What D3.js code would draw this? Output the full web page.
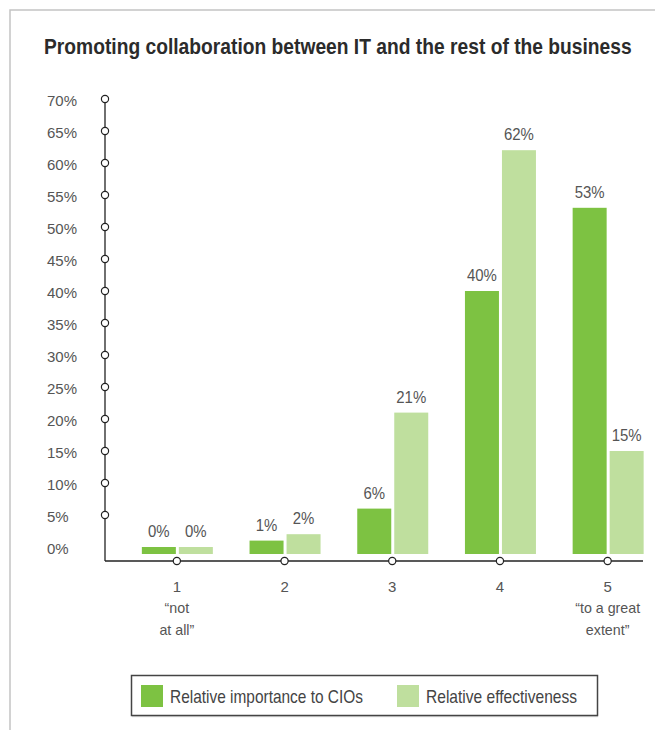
<!DOCTYPE html>
<html>
<head>
<meta charset="utf-8">
<script src="https://cdn.jsdelivr.net/npm/d3@7"></script>
<style>
  html, body { margin: 0; padding: 0; background: #fff; }
  svg { display: block; }
  text { font-family: "Liberation Sans", Arial, Helvetica, sans-serif; }
</style>
</head>
<body>
<svg id="chart" width="655" height="730"></svg>
<script>
// Survey answers on a 1–5 scale
const categories = ["1", "2", "3", "4", "5"];
const categoryNotes = [["“not", "at all”"], [], [], [], ["“to a great", "extent”"]];
const seriesNames = ["Relative importance to CIOs", "Relative effectiveness"];
const importance = [0, 1, 6, 40, 53];
const effectiveness = [0, 2, 21, 62, 15];
const yTicks = [0, 5, 10, 15, 20, 25, 30, 35, 40, 45, 50, 55, 60, 65, 70];
const title = "Promoting collaboration between IT and the rest of the business";

const colors = ["#7dc242", "#bfdf9e"];
const svg = d3.select("#chart");

// condensed look: shrink a text run horizontally to a width (or a share of its own width)
function squeeze(sel, target) {
  sel.each(function () {
    const w = this.getComputedTextLength();
    const t = typeof target === "function" ? target(w) : target;
    this.setAttribute("textLength", t);
    this.setAttribute("lengthAdjust", "spacingAndGlyphs");
  });
}

// outer frame (top and left rules)
svg.append("path")
  .attr("d", "M10,730 V10 H655")
  .attr("fill", "none").attr("stroke", "#c4c4c4").attr("stroke-width", 1.5);

// title, compressed horizontally to a condensed width
const titleText = svg.append("text")
  .attr("x", 0).attr("y", 0)
  .attr("font-size", 22).attr("font-weight", "bold").attr("fill", "#2b2b2b")
  .text(title);
const titleScale = 588 / titleText.node().getComputedTextLength();
titleText.attr("transform", `translate(44,54) scale(${titleScale},1)`);

const y = d3.scaleLinear().domain([0, 70]).range([547, 99]);
const x = d3.scaleBand().domain(categories).range([123, 661.5]);
const barBase = y(0) + 7;
const axisY = 561;
const axisX = 105;
const barW = 34, gap = 3;

// y axis
const yAxis = svg.append("g")
  .attr("transform", `translate(${axisX},0)`)
  .call(d3.axisLeft(y).tickValues(yTicks).tickSize(0).tickFormat(d => d + "%"));
yAxis.select(".domain").remove();
yAxis.selectAll("text")
  .attr("x", 47 - axisX).attr("dy", "0.45em")
  .attr("text-anchor", "start")
  .attr("font-size", 15).attr("fill", "#555")
  .style("font-family", null);
svg.append("line")
  .attr("x1", axisX).attr("x2", axisX).attr("y1", y(70)).attr("y2", axisY)
  .attr("stroke", "#222").attr("stroke-width", 1.3);

// x axis
const xAxis = svg.append("g")
  .attr("transform", `translate(0,${axisY})`)
  .call(d3.axisBottom(x).tickSize(0).tickPadding(0));
xAxis.select(".domain").remove();
xAxis.selectAll("text")
  .attr("y", 31).attr("dy", 0)
  .attr("font-size", 15).attr("fill", "#555")
  .style("font-family", null);
svg.append("line")
  .attr("x1", axisX).attr("x2", 643).attr("y1", axisY).attr("y2", axisY)
  .attr("stroke", "#222").attr("stroke-width", 1.3);

// sub-labels under the end points of the scale
categories.forEach((c, i) => {
  categoryNotes[i].forEach((line, j) => {
    svg.append("text")
      .attr("x", x(c) + x.bandwidth() / 2)
      .attr("y", axisY + 52 + j * 22)
      .attr("text-anchor", "middle")
      .attr("font-size", 15).attr("fill", "#555")
      .text(line)
      .call(squeeze, w => w * 0.95);
  });
});

// bars
const series = [importance, effectiveness];
series.forEach((vals, s) => {
  const g = svg.append("g");
  const bx = (c) => x(c) + x.bandwidth() / 2 + (s === 0 ? -barW - gap / 2 + 0.5 : gap / 2 + 0.5);
  g.selectAll("rect").data(vals).join("rect")
    .attr("x", (d, i) => bx(categories[i]))
    .attr("y", d => y(d))
    .attr("width", barW)
    .attr("height", d => barBase - y(d))
    .attr("fill", colors[s]);
  g.selectAll("text").data(vals).join("text")
    .attr("x", (d, i) => bx(categories[i]) + barW / 2)
    .attr("y", d => y(d) - 10)
    .attr("text-anchor", "middle")
    .attr("font-size", 17).attr("fill", "#555")
    .text(d => d + "%")
    .call(squeeze, w => w * 0.88);
});

// tick markers: open circles on both axes
const tickCircle = sel => sel
  .attr("r", 3.6).attr("fill", "#fff").attr("stroke", "#222").attr("stroke-width", 1.2);
svg.append("g").selectAll("circle").data(yTicks.filter(t => t > 0)).join("circle")
  .attr("cx", axisX).attr("cy", d => y(d)).call(tickCircle);
svg.append("g").selectAll("circle").data(categories).join("circle")
  .attr("cx", d => x(d) + x.bandwidth() / 2).attr("cy", axisY).call(tickCircle);

// legend
const lg = svg.append("g");
lg.append("line")
  .attr("x1", 132).attr("x2", 598).attr("y1", 716.5).attr("y2", 716.5)
  .attr("stroke", "#ddd").attr("stroke-width", 1.5);
lg.append("rect")
  .attr("x", 131.5).attr("y", 675.5).attr("width", 466).attr("height", 40)
  .attr("fill", "#fff").attr("stroke", "#444").attr("stroke-width", 1.5);
const legendX = [141, 397];
const legendTextW = [193, 151];
seriesNames.forEach((name, i) => {
  lg.append("rect")
    .attr("x", legendX[i]).attr("y", 685).attr("width", 22).attr("height", 22)
    .attr("fill", colors[i]);
  lg.append("text")
    .attr("x", legendX[i] + 29).attr("y", 703)
    .attr("font-size", 18.5).attr("fill", "#444")
    .text(name)
    .call(squeeze, legendTextW[i]);
});
</script>
</body>
</html>
